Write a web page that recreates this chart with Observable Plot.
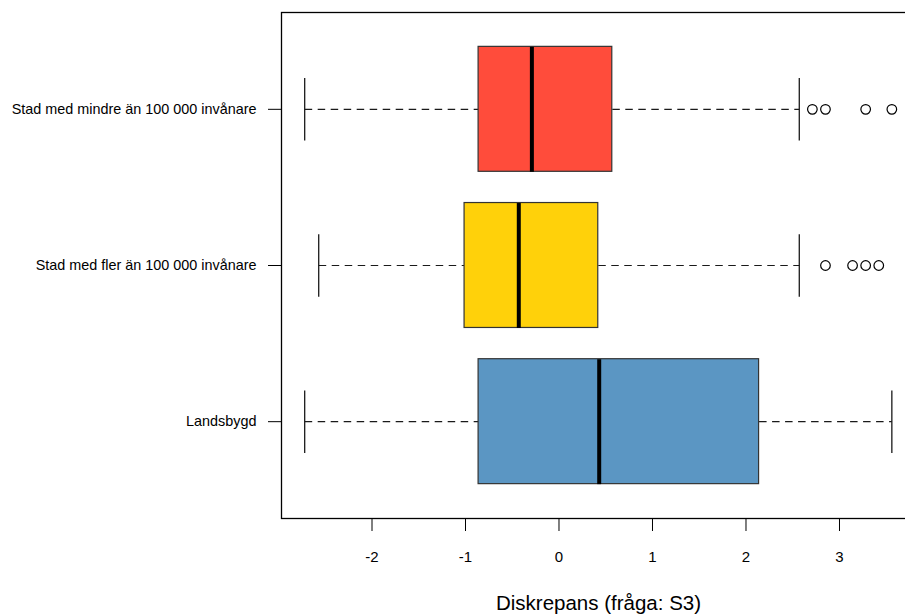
<!DOCTYPE html>
<html>
<head>
<meta charset="utf-8">
<script src="https://cdn.jsdelivr.net/npm/d3@7"></script>
<script src="https://cdn.jsdelivr.net/npm/@observablehq/plot@0.6"></script>
<style>
  html, body { margin: 0; padding: 0; background: #fff; overflow: hidden; }
</style>
</head>
<body>
<div id="chart"></div>
<script>
// Groups in R order (position 1 at bottom)
const groups = [
  "Landsbygd",
  "Stad med fler än 100 000 invånare",
  "Stad med mindre än 100 000 invånare"
];
const whiskerLow  = [-2.72, -2.57, -2.72];
const q1          = [-0.86, -1.01, -0.86];
const median      = [0.43, -0.43, -0.29];
const q3          = [2.14, 0.42, 0.57];
const whiskerHigh = [3.56, 2.57, 2.57];
const outliers = [
  [],
  [2.85, 3.14, 3.28, 3.42],
  [2.71, 2.85, 3.28, 3.56]
];
const colors = ["#5B96C3", "#FFD10A", "#FF4C3B"];
const xTicks = [-2, -1, 0, 1, 2, 3];
const xTickLabels = ["-2", "-1", "0", "1", "2", "3"];
const xLabel = "Diskrepans (fråga: S3)";

const rows = groups.map((g, i) => ({
  pos: i + 1, group: g,
  lo: whiskerLow[i], q1: q1[i], med: median[i], q3: q3[i], hi: whiskerHigh[i],
  color: colors[i]
}));
const outlierRows = outliers.flatMap((arr, i) => arr.map(v => ({pos: i + 1, value: v})));

const dash = "7.5,5.5";
const ink = "#1a1a1a";
const font = "'Liberation Sans', Arial, sans-serif";

const chart = Plot.plot({
  width: 925,
  height: 614,
  marginLeft: 281,
  marginRight: 10,
  marginTop: 12,
  marginBottom: 96,
  style: {fontFamily: font, fontSize: "13px", color: "black", background: "white", maxWidth: "none"},
  x: {domain: [-2.968, 3.813], label: null},
  y: {domain: [0.38, 3.62], label: null},
  color: {type: "identity"},
  marks: [
    Plot.frame({stroke: "black", strokeWidth: 1.3}),
    Plot.axisX(xTicks, {tickSize: 13, tickPadding: 20, tickFormat: d => xTickLabels[xTicks.indexOf(d)], fontSize: 15, label: null}),
    Plot.axisY([1, 2, 3], {tickSize: 13, tickPadding: 12, tickFormat: d => groups[d - 1], fontSize: 14.4, label: null}),
    Plot.link(rows, {x1: "lo", x2: "q1", y1: "pos", y2: "pos", stroke: ink, strokeDasharray: dash, strokeWidth: 1.2}),
    Plot.link(rows, {x1: "q3", x2: "hi", y1: "pos", y2: "pos", stroke: ink, strokeDasharray: dash, strokeWidth: 1.2}),
    Plot.link(rows, {x1: "lo", x2: "lo", y1: d => d.pos - 0.2, y2: d => d.pos + 0.2, stroke: ink, strokeWidth: 1.3}),
    Plot.link(rows, {x1: "hi", x2: "hi", y1: d => d.pos - 0.2, y2: d => d.pos + 0.2, stroke: ink, strokeWidth: 1.3}),
    Plot.rect(rows, {x1: "q1", x2: "q3", y1: d => d.pos - 0.4, y2: d => d.pos + 0.4, fill: "color", stroke: "#333", strokeWidth: 1.2}),
    Plot.link(rows, {x1: "med", x2: "med", y1: d => d.pos - 0.4, y2: d => d.pos + 0.4, stroke: "black", strokeWidth: 4}),
    Plot.dot(outlierRows, {x: "value", y: "pos", r: 4.8, stroke: "black", fill: "none", strokeWidth: 1.2}),
    Plot.text([xLabel], {frameAnchor: "bottom", dy: 85, fontSize: 20.5, lineAnchor: "middle", fill: "black"})
  ]
});
document.getElementById("chart").appendChild(chart);
</script>
</body>
</html>
